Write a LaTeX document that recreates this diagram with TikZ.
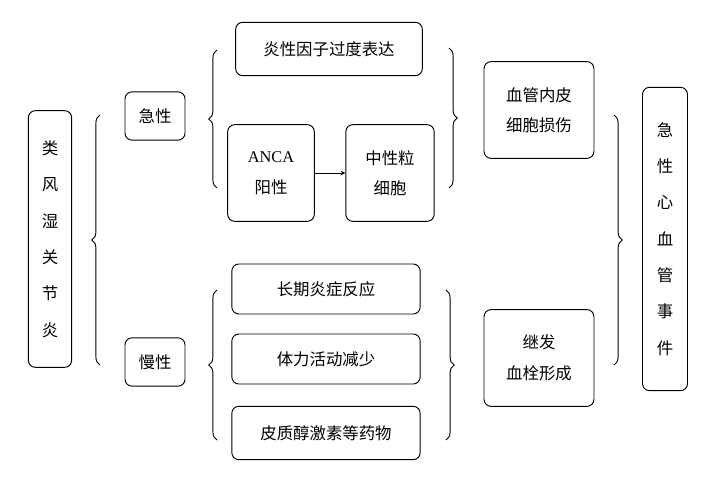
\documentclass[tikz,border=0pt]{standalone}
\usepackage{fontspec}
\setmainfont{Liberation Serif}
\newfontfamily\cjk{Noto Sans CJK SC}
\usetikzlibrary{positioning,decorations.pathreplacing}

\tikzset{
  box/.style={draw,thick,rounded corners=6pt,align=center,font=\cjk\fontsize{14}{26}\selectfont},
  tall/.style={box,font=\cjk\fontsize{14}{31}\selectfont},
  brc/.style={decorate,decoration={brace,amplitude=7pt},thick},
}

\begin{document}
\begin{tikzpicture}[x=0.03cm,y=-0.03cm,>=stealth]
\useasboundingbox (0,0) rectangle (720,478);

% left column
\node[tall,minimum width=1.3cm,minimum height=7.7cm] (ra) at (50,239) {类\\风\\湿\\关\\节\\炎};
\node[box,minimum width=1.8cm,minimum height=1.45cm] (acute) at (155,116) {急性};
\node[box,minimum width=1.8cm,minimum height=1.45cm] (chronic) at (155,362) {慢性};

% acute branch
\node[box,minimum width=5.6cm,minimum height=1.6cm] (inf) at (329,49) {炎性因子过度表达};
\node[box,minimum width=2.6cm,minimum height=2.9cm] (anca) at (271,173) {\rmfamily ANCA\\阳性};
\node[box,minimum width=2.65cm,minimum height=2.9cm] (neu) at (390,173) {中性粒\\细胞};
\node[box,minimum width=3.3cm,minimum height=2.9cm] (endo) at (539,110) {血管内皮\\细胞损伤};

% chronic branch
\node[box,minimum width=5.65cm,minimum height=1.5cm] (long) at (326,289) {长期炎症反应};
\node[box,minimum width=5.65cm,minimum height=1.5cm] (phys) at (326,359) {体力活动减少};
\node[box,minimum width=5.65cm,minimum height=1.6cm] (drug) at (326,433) {皮质醇激素等药物};
\node[box,minimum width=3.3cm,minimum height=2.9cm] (throm) at (539,358) {继发\\血栓形成};

% right column
\node[tall,minimum width=1.35cm,minimum height=9.1cm] (cve) at (665,239) {急\\性\\心\\血\\管\\事\\件};

\draw[->,thick] (anca) -- (neu);

% braces
\draw[brc] (100,365) -- (100,115);
\draw[brc] (217,188) -- (217,50);
\draw[brc] (217,440) -- (217,290);
\draw[brc] (449,48) -- (449,188);
\draw[brc] (446,290) -- (446,440);
\draw[brc] (614,115) -- (614,365);
\end{tikzpicture}
\end{document}
